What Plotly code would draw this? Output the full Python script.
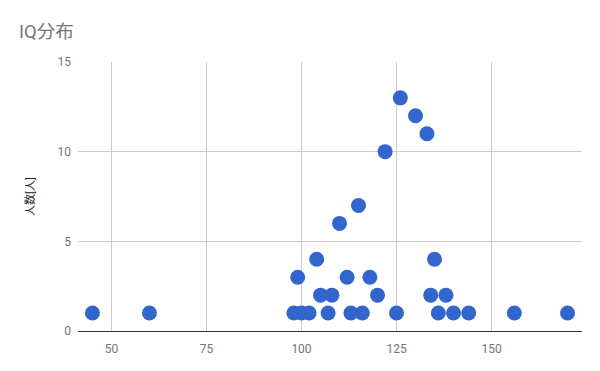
import plotly.graph_objects as go

iq = [45, 60, 98, 99, 100, 102, 104, 105, 107, 108, 110, 112, 113, 115, 116,
      118, 120, 122, 125, 126, 130, 133, 134, 135, 136, 138, 140, 144, 156, 170]
count = [1, 1, 1, 3, 1, 1, 4, 2, 1, 2, 6, 3, 1, 7, 1,
         3, 2, 10, 1, 13, 12, 11, 2, 4, 1, 2, 1, 1, 1, 1]
x_ticks = [50, 75, 100, 125, 150]
y_ticks = [0, 5, 10, 15]

font = "Roboto, 'Noto Sans CJK JP', sans-serif"

fig = go.Figure(go.Scatter(
    x=iq, y=count, mode="markers",
    marker=dict(size=15, color="#3366CC", line=dict(width=0)),
    hoverinfo="x+y",
))

fig.update_layout(
    width=600, height=371,
    margin=dict(l=78, r=18, t=62, b=40),
    paper_bgcolor="white", plot_bgcolor="white",
    showlegend=False,
    font=dict(family=font, size=12, color="#757575"),
    title=dict(text="IQ分布", x=19/600, xanchor="left", xref="container",
               y=1 - 32/371, yanchor="middle", yref="container",
               font=dict(family=font, size=18.5, color="#757575")),
)
fig.update_xaxes(
    range=[41.2, 173.8], tickvals=x_ticks, showgrid=True, gridcolor="#cccccc",
    gridwidth=1, zeroline=False, showline=True, linecolor="#333333", linewidth=1.2,
    ticks="", ticklabelstandoff=6, tickfont=dict(size=12, color="#757575"),
)
fig.update_yaxes(
    range=[0, 15], tickvals=y_ticks, showgrid=True, gridcolor="#cccccc",
    gridwidth=1, zeroline=False, showline=False, ticks="", ticklabelstandoff=6,
    tickfont=dict(size=12, color="#757575"),
    title=dict(text="人数[人]", standoff=20, font=dict(size=11, color="#222222")),
)

fig.write_html("out.html")
